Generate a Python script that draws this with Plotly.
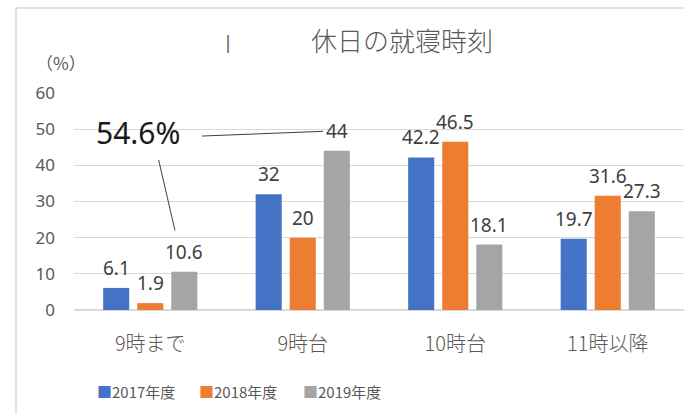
import plotly.graph_objects as go

# --- data ---------------------------------------------------------------
categories = ["9時まで", "9時台", "10時台", "11時以降"]
series_names = ["2017年度", "2018年度", "2019年度"]
values_2017 = [6.1, 32, 42.2, 19.7]
values_2018 = [1.9, 20, 46.5, 31.6]
values_2019 = [10.6, 44, 18.1, 27.3]
y_ticks = [0, 10, 20, 30, 40, 50, 60]

colors = ["#4472C4", "#ED7D31", "#A5A5A5"]
all_values = [values_2017, values_2018, values_2019]

# --- layout constants ---------------------------------------------------
W, H = 684, 414
M_L, M_R, M_T, M_B = 74, 0, 93, 104
BARGAP = 0.33
BARGROUPGAP = 0.235
FONT = "Noto Sans, Noto Sans CJK JP, sans-serif"
JP_FONT = "Noto Sans CJK JP, Noto Sans, sans-serif"
TICK_COLOR = "#595959"
LABEL_COLOR = "#404040"
GRID_COLOR = "#D9D9D9"

plot_w = W - M_L - M_R
plot_h = H - M_T - M_B


def px_to_paper_x(px):
    return (px - M_L) / plot_w


def px_to_paper_y(py):
    return (H - M_B - py) / plot_h


fig = go.Figure()

n = len(series_names)
slot = (1 - BARGAP) / n
annotations = []

for i, (name, vals, col) in enumerate(zip(series_names, all_values, colors)):
    fig.add_trace(go.Bar(
        x=categories, y=vals, name=name,
        marker=dict(color=col, line=dict(width=0)),
        showlegend=False,
        hoverinfo="x+y+name",
    ))
    # value labels above each bar
    offset = (i - (n - 1) / 2) * slot
    for k, v in enumerate(vals):
        annotations.append(dict(
            x=k + offset, y=v, xref="x", yref="y",
            text=f"{v:g}", showarrow=False,
            yanchor="middle", yshift=20,
            font=dict(family=FONT, size=19, color=LABEL_COLOR),
        ))

# legend row drawn as text items
legend_px = [95, 197, 301]
for name, col, lx in zip(series_names, colors, legend_px):
    annotations.append(dict(
        x=px_to_paper_x(lx), y=px_to_paper_y(391),
        xref="paper", yref="paper", xanchor="left", yanchor="middle",
        text=f"<span style='color:{col}'>■</span>{name}",
        showarrow=False,
        font=dict(family=JP_FONT, size=15, color=TICK_COLOR),
    ))

# axis unit
annotations.append(dict(
    x=px_to_paper_x(61), y=px_to_paper_y(62),
    xref="paper", yref="paper", xanchor="center", yanchor="middle",
    text="（%）", showarrow=False,
    font=dict(family="Noto Sans CJK JP", size=17, color=TICK_COLOR),
))

# small cursor mark left of the title
annotations.append(dict(
    x=px_to_paper_x(228), y=px_to_paper_y(42),
    xref="paper", yref="paper", xanchor="center", yanchor="middle",
    text="|", showarrow=False,
    font=dict(family="DejaVu Sans", size=18, color="#666666"),
))

# combined share of the two earliest bedtime groups (2019)
total = values_2019[0] + values_2019[1]
annotations.append(dict(
    x=-0.078, y=49.0, xref="x", yref="y",
    text=f"{total:.1f}%", showarrow=False,
    xanchor="center", yanchor="middle",
    font=dict(family=FONT, size=30, color="#1A1A1A"),
))

shapes = [
    # callout connectors from the total to the two 2019 bars
    dict(type="line", xref="x", yref="y",
         x0=0.055, y0=41.5, x1=0.162, y1=22.0,
         line=dict(color="#404040", width=1)),
    dict(type="line", xref="x", yref="y",
         x0=0.339, y0=48.1, x1=1.133, y1=49.4,
         line=dict(color="#404040", width=1)),
    # chart frame
    dict(type="rect", xref="paper", yref="paper",
         x0=px_to_paper_x(16), x1=px_to_paper_x(W + 20),
         y0=px_to_paper_y(H + 20), y1=px_to_paper_y(8),
         line=dict(color=GRID_COLOR, width=1.5), fillcolor="rgba(0,0,0,0)",
         layer="below"),
]

fig.update_layout(
    width=W, height=H,
    margin=dict(l=M_L, r=M_R, t=M_T, b=M_B, pad=0),
    paper_bgcolor="white", plot_bgcolor="white",
    barmode="group", bargap=BARGAP, bargroupgap=BARGROUPGAP,
    title=dict(
        text="休日の就寝時刻",
        x=402 / W, xref="container", xanchor="center",
        y=1 - 42 / H, yref="container", yanchor="middle",
        font=dict(family=JP_FONT, size=26, color=TICK_COLOR, weight=300),
    ),
    xaxis=dict(
        type="category", range=[-0.5, 3.5],
        showgrid=False, zeroline=False, showline=False,
        ticks="", ticklabelstandoff=20,
        tickfont=dict(family=JP_FONT, size=20, color=TICK_COLOR, weight=300),
        fixedrange=True,
    ),
    yaxis=dict(
        range=[0, 60], tickvals=y_ticks,
        showgrid=True, gridcolor=GRID_COLOR, gridwidth=1,
        zeroline=True, zerolinecolor=GRID_COLOR, zerolinewidth=1.5,
        showline=False, ticks="", ticklabelstandoff=18,
        tickfont=dict(family=FONT, size=17, color=TICK_COLOR),
        fixedrange=True,
    ),
    annotations=annotations,
    shapes=shapes,
    showlegend=False,
)

fig.write_html("out.html", config={"displayModeBar": False})
